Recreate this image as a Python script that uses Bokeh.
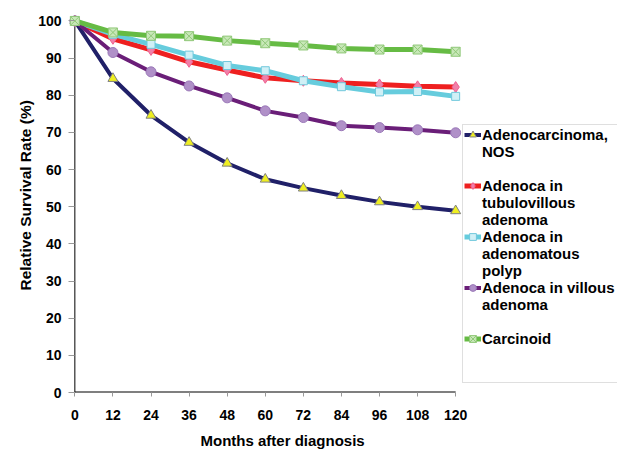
from bokeh.plotting import figure
from bokeh.models import Legend, LegendItem, FixedTicker, Range1d, Title
from bokeh.embed import file_html
from bokeh.resources import INLINE

months = [0, 12, 24, 36, 48, 60, 72, 84, 96, 108, 120]
adeno_nos = [100, 84.5, 74.6, 67.3, 61.7, 57.4, 55.0, 53.0, 51.3, 50.0, 48.9]
tubulovillous = [100, 95.2, 92.2, 89.0, 86.8, 84.7, 83.9, 83.3, 82.9, 82.4, 82.2]
adenomatous = [100, 96.4, 93.7, 90.8, 88.0, 86.6, 83.9, 82.3, 80.9, 81.0, 79.7]
villous = [100, 91.5, 86.3, 82.5, 79.3, 75.8, 74.0, 71.8, 71.3, 70.7, 69.9]
carcinoid = [100, 96.9, 96.0, 95.9, 94.7, 94.0, 93.4, 92.6, 92.3, 92.3, 91.7]

# legend text, one list of lines per series (blank lines keep Excel's spacing)
label_lines = [
    ["Adenocarcinoma,", "NOS", " "],
    ["Adenoca in", "tubulovillous", "adenoma"],
    ["Adenoca in", "adenomatous", "polyp"],
    ["Adenoca in villous", "adenoma", " "],
    ["Carcinoid", " ", " "],
]
x_ticks = months
y_ticks = [0, 10, 20, 30, 40, 50, 60, 70, 80, 90, 100]

p = figure(width=627, height=459, output_backend="svg", toolbar_location=None,
           x_range=Range1d(-2, 171), y_range=Range1d(0, 102),
           min_border_left=68, min_border_right=10, min_border_top=13,
           min_border_bottom=67)
p.outline_line_color = None
p.xgrid.visible = False
p.ygrid.visible = False
p.background_fill_color = "white"

# axis lines drawn over the data extents
p.segment(x0=[months[0], months[0]], y0=[y_ticks[0], y_ticks[0]],
          x1=[months[-1], months[0]], y1=[y_ticks[0], y_ticks[-1]],
          line_color="black", line_width=[2, 1])

series = [
    (adeno_nos, "#202068", 4, "triangle", "#eeee22", "#808080", 10),
    (tubulovillous, "#ee2020", 5, "diamond", "#f080a8", "#f06090", 11),
    (adenomatous, "#66ccdd", 5, "square", "#d0f0f6", "#70c8dc", 8),
    (villous, "#6a1e78", 4, "circle", "#b090c8", "#9a78b8", 10),
    (carcinoid, "#66bb44", 5, "square_x", "#c8e8b8", "#90c878", 9),
]
blank = p.line(x=[], y=[], line_alpha=0)
items = []
for (vals, lc, lw, mk, fc, oc, sz), lines in zip(series, label_lines):
    r1 = p.line(months, vals, line_color=lc, line_width=lw)
    r2 = p.scatter(months, vals, marker=mk, size=sz, fill_color=fc,
                   line_color=oc, line_width=1)
    items.append(LegendItem(label=lines[0], renderers=[r1, r2]))
    for extra in lines[1:]:
        items.append(LegendItem(label=extra, renderers=[blank]))

legend = Legend(items=items, location=(394, 9), padding=1, spacing=0,
                margin=0, glyph_width=17, glyph_height=17, label_height=17,
                label_standoff=1, label_width=140,
                label_text_font="Liberation Sans",
                label_text_font_style="bold", label_text_font_size="15px",
                label_text_color="black",
                border_line_color="#c0c0c0", border_line_width=1,
                background_fill_color="white", background_fill_alpha=1)
p.add_layout(legend, "center")

for ax in (p.xaxis[0], p.yaxis[0]):
    ax.axis_line_color = None
    ax.major_tick_line_color = "#999999"
    ax.minor_tick_line_color = None
    ax.major_label_text_font = "Liberation Sans"
    ax.major_label_text_font_style = "bold"
    ax.major_label_text_font_size = "14px"
    ax.major_label_text_color = "black"

p.xaxis.ticker = FixedTicker(ticks=x_ticks)
p.yaxis.ticker = FixedTicker(ticks=y_ticks)
p.xaxis.major_tick_in = 0
p.xaxis.major_tick_out = 4
p.yaxis.major_tick_in = 6
p.yaxis.major_tick_out = 0
p.xaxis.major_label_standoff = 13
p.yaxis.major_label_standoff = 7

xtitle = Title(text="Months after diagnosis", align="left", offset=132,
               text_font="Liberation Sans", text_font_style="bold",
               text_font_size="15px", text_color="black", standoff=15)
p.add_layout(xtitle, "below")
ytitle = Title(text="Relative Survival Rate (%)", align="left", offset=102,
               text_font="Liberation Sans", text_font_style="bold",
               text_font_size="15.5px", text_color="black", standoff=4)
p.add_layout(ytitle, "left")

open("out.html", "w").write(file_html(p, INLINE))
